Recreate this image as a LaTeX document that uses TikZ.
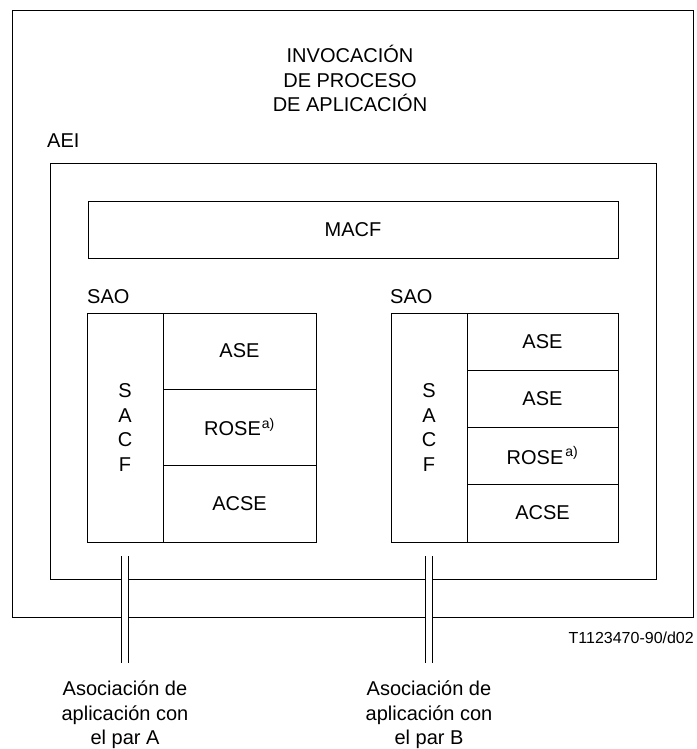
\documentclass[tikz,border=0pt]{standalone}
\usepackage{fontspec}
\setmainfont{Liberation Sans}
\usetikzlibrary{positioning}

\tikzset{
  box/.style={draw, line width=1pt, inner sep=0pt, outer sep=0pt, anchor=north west,
    font=\fontsize{20}{24.5}\selectfont, align=center},
  lbl/.style={inner sep=0pt, font=\fontsize{20}{24.5}\selectfont, align=center},
  assoc/.style={draw, double, double distance=6pt, line width=1pt},
}

\begin{document}
\begin{tikzpicture}[x=1pt, y=-1pt]
  \useasboundingbox (0,0) rectangle (696,749);

  % application process invocation and entity
  \node[box, minimum width=681pt, minimum height=606pt] (api) at (12,11) {};
  \node[lbl, anchor=north] (apitxt) at (350,45) {INVOCACIÓN\\DE PROCESO\\DE APLICACIÓN};
  \node[box, minimum width=606pt, minimum height=416pt] (aei) at (50,163) {};
  \node[lbl, anchor=base west] (aeitxt) at (47,147) {AEI};
  \node[box, minimum width=530pt, minimum height=57pt] (macf) at (88,201) {MACF};

  % first SAO
  \node[lbl, anchor=base west] (saoAtxt) at (87,303) {SAO};
  \node[box, minimum width=76pt, minimum height=229pt] (sacfA) at (87,313) {S\\A\\C\\F};
  \node[box, minimum width=153pt, minimum height=76pt, right=0pt of sacfA.north east, anchor=north west] (aseA) {ASE};
  \node[box, minimum width=153pt, minimum height=76pt, below=0pt of aseA, anchor=north] (roseA) {ROSE\textsuperscript{\kern1pt a)}};
  \node[box, minimum width=153pt, minimum height=77pt, below=0pt of roseA, anchor=north] (acseA) {ACSE};

  % second SAO
  \node[lbl, anchor=base west] (saoBtxt) at (390,303) {SAO};
  \node[box, minimum width=76pt, minimum height=229pt] (sacfB) at (391,313) {S\\A\\C\\F};
  \node[box, minimum width=151pt, minimum height=57pt, right=0pt of sacfB.north east, anchor=north west] (aseB) {ASE};
  \node[box, minimum width=151pt, minimum height=57pt, below=0pt of aseB, anchor=north] (aseC) {ASE};
  \node[box, minimum width=151pt, minimum height=57pt, below=0pt of aseC, anchor=north] (roseB) {ROSE\textsuperscript{\kern2pt a)}};
  \node[box, minimum width=151pt, minimum height=58pt, below=0pt of roseB, anchor=north] (acseB) {ACSE};

  % associations
  \coordinate[below=14pt of sacfA] (upA);
  \coordinate[below=107pt of upA] (loA);
  \coordinate[below=14pt of sacfB] (upB);
  \coordinate[below=107pt of upB] (loB);
  \draw[assoc] (upA) -- (loA);
  \draw[assoc] (upB) -- (loB);
  \node[lbl, below=18pt of loA] (parA) {Asociación de\\aplicación con\\el par A};
  \node[lbl, below=18pt of loB] (parB) {Asociación de\\aplicación con\\el par B};

  \node[inner sep=0pt, anchor=base east, font=\fontsize{16}{20}\selectfont] (ref) at (694,643) {T1123470-90/d02};
\end{tikzpicture}
\end{document}
